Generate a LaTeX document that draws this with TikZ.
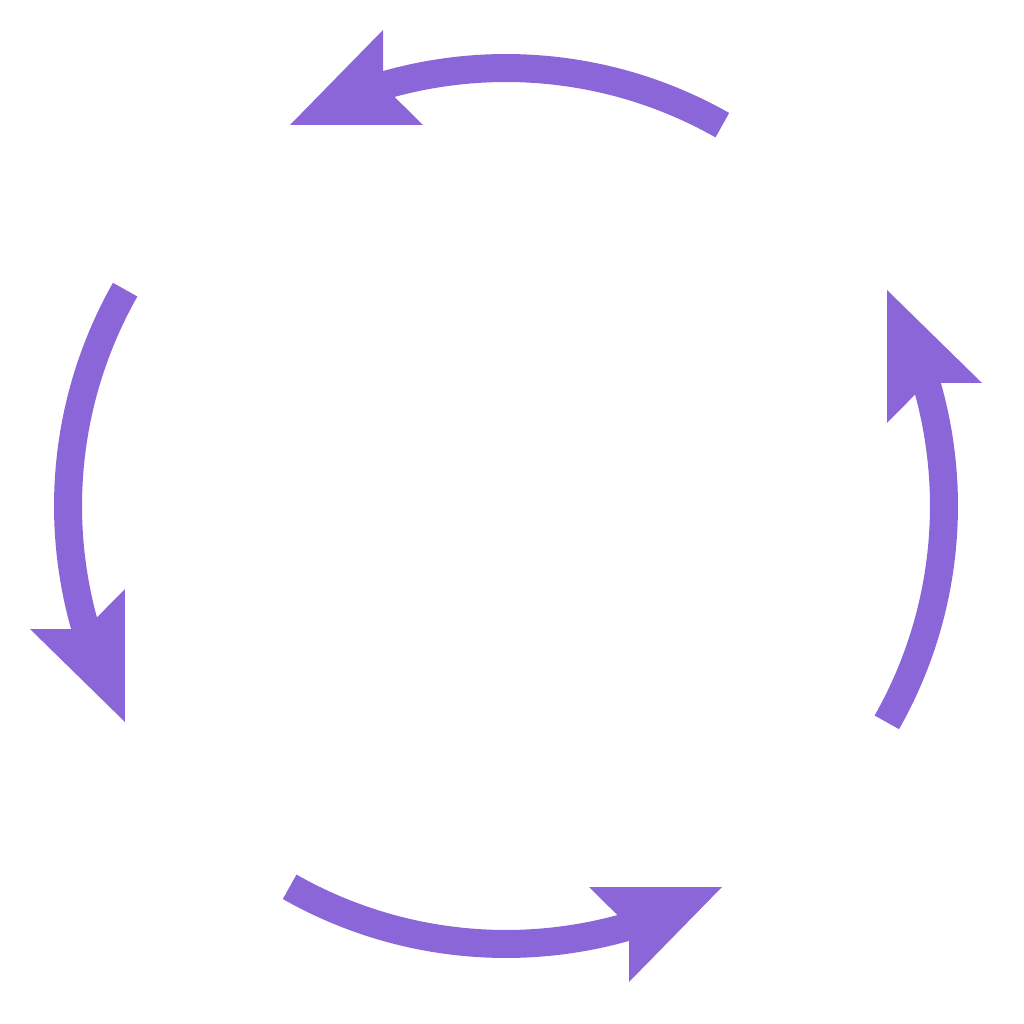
\documentclass[tikz,border=0pt]{standalone}
\definecolor{arrowpurple}{RGB}{139,102,216}
\tikzset{
  arcline/.style={draw=arrowpurple, line width=28pt, line cap=butt},
  dart/.style={fill=arrowpurple, draw=none}
}
\begin{document}
\begin{tikzpicture}[x=1pt,y=1pt]
\useasboundingbox (-506,-518) rectangle (518,506);
\foreach \k in {0,1,2,3}{
  \begin{scope}[rotate=-90*\k]
    \draw[arcline] (60.4:438) arc[start angle=60.4, end angle=106.3, radius=438pt];
    \coordinate (tip\k) at (-216,381);
    \coordinate (armA\k) at (-123,476);
    \coordinate (back\k) at (-123,420.5);
    \coordinate (armB\k) at (-83,381);
    \fill[dart] (tip\k) -- (armA\k) -- (back\k) -- (armB\k) -- cycle;
  \end{scope}
}
\end{tikzpicture}
\end{document}
